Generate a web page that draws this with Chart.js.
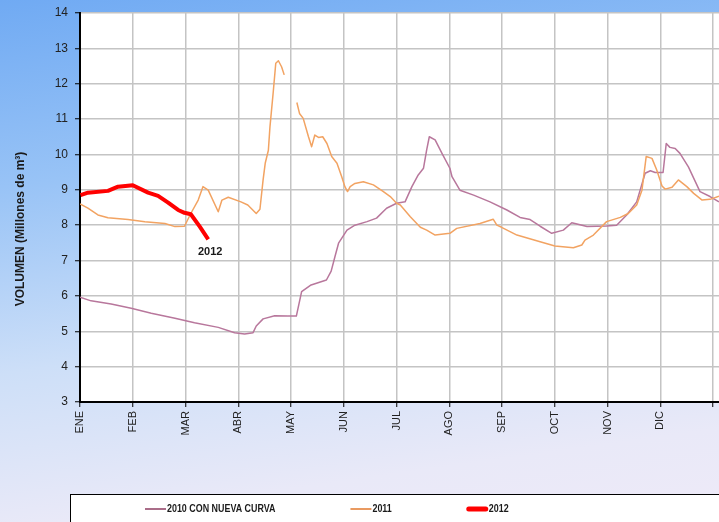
<!DOCTYPE html>
<html>
<head>
<meta charset="utf-8">
<script src="https://cdn.jsdelivr.net/npm/chart.js@4/dist/chart.umd.min.js"></script>
<style>
  html, body { margin: 0; padding: 0; }
  body {
    width: 719px; height: 522px; overflow: hidden;
    background: linear-gradient(172deg, #70aaf3 0%, #98c3f6 30%, #cddff8 60%, #e9e9f8 85%, #eeeaf8 100%);
  }
  #wrap { position: relative; width: 719px; height: 522px; }
</style>
</head>
<body>
<div id="wrap"><canvas id="chart" width="719" height="522"></canvas></div>
<script>
// meses en el eje X (posición 0 = 1 de enero, 1 = 1 de febrero, ...)
const monthLabels = ['ENE', 'FEB', 'MAR', 'ABR', 'MAY', 'JUN', 'JUL', 'AGO', 'SEP', 'OCT', 'NOV', 'DIC', ''];

// 2010 CON NUEVA CURVA
const pos2010 = [0, 0.21, 0.59, 0.97, 1.35, 1.80, 2.17, 2.62, 2.93, 3.12, 3.28, 3.34, 3.47, 3.69, 3.94, 4.10,
  4.20, 4.38, 4.67, 4.76, 4.83, 4.90, 5.06, 5.21, 5.44, 5.62, 5.81, 6.00, 6.16, 6.29, 6.41, 6.51, 6.57, 6.62,
  6.73, 6.86, 7.01, 7.05, 7.20, 7.46, 7.77, 8.09, 8.34, 8.53, 8.72, 8.94, 9.16, 9.32, 9.61, 9.98, 10.17, 10.36,
  10.55, 10.71, 10.81, 10.90, 11.05, 11.11, 11.18, 11.28, 11.37, 11.53, 11.75, 11.94, 12.11];
const vol2010 = [5.96, 5.86, 5.77, 5.65, 5.51, 5.37, 5.24, 5.11, 4.96, 4.92, 4.96, 5.15, 5.35, 5.44, 5.43, 5.43,
  6.12, 6.31, 6.45, 6.70, 7.10, 7.49, 7.86, 8.00, 8.10, 8.20, 8.48, 8.62, 8.66, 9.09, 9.42, 9.61, 10.13, 10.50,
  10.41, 10.03, 9.61, 9.37, 8.99, 8.85, 8.66, 8.43, 8.22, 8.16, 7.97, 7.77, 7.86, 8.07, 7.96, 7.98, 8.00, 8.29,
  8.66, 9.47, 9.54, 9.49, 9.49, 10.31, 10.20, 10.17, 10.03, 9.65, 8.95, 8.81, 8.66];

// 2011 (null = tramo sin datos)
const pos2011 = [0, 0.15, 0.34, 0.53, 0.91, 1.23, 1.61, 1.80, 1.98, 2.10, 2.24, 2.33, 2.43, 2.62, 2.69, 2.81,
  3.05, 3.18, 3.34, 3.41, 3.47, 3.51, 3.57, 3.60, 3.66, 3.71, 3.76, 3.82, 3.87, 3.99, 4.11, 4.16, 4.23, 4.33,
  4.39, 4.45, 4.52, 4.60, 4.68, 4.77, 4.87, 4.96, 5.02, 5.07, 5.12, 5.21, 5.37, 5.56, 5.75, 5.88, 6.00, 6.07,
  6.26, 6.45, 6.57, 6.73, 7.01, 7.14, 7.58, 7.83, 7.90, 7.99, 8.28, 8.72, 9.00, 9.35, 9.51, 9.57, 9.73, 9.98,
  10.24, 10.39, 10.55, 10.65, 10.73, 10.84, 10.93, 11.03, 11.09, 11.22, 11.34, 11.50, 11.63, 11.79, 11.94, 12.11];
const vol2011 = [8.60, 8.48, 8.29, 8.21, 8.16, 8.10, 8.05, 7.96, 7.97, 8.33, 8.71, 9.09, 8.99, 8.38, 8.71, 8.79,
  8.66, 8.57, 8.33, 8.45, 9.28, 9.75, 10.12, 10.78, 11.73, 12.58, 12.65, 12.48, 12.25, null, 11.47, 11.16, 11.02, 10.50,
  10.22, 10.55, 10.48, 10.50, 10.31, 9.94, 9.75, 9.37, 9.09, 8.95, 9.09, 9.18, 9.23, 9.14, 8.95, 8.81, 8.62, 8.57,
  8.24, 7.94, 7.86, 7.72, 7.77, 7.91, 8.05, 8.17, 8.00, 7.94, 7.72, 7.53, 7.41, 7.36, 7.44, 7.58, 7.72, 8.10,
  8.22, 8.33, 8.57, 8.99, 9.94, 9.89, 9.56, 9.11, 9.02, 9.07, 9.28, 9.09, 8.90, 8.71, 8.73, 8.82];

// 2012
const pos2012 = [0.01, 0.15, 0.53, 0.72, 1.00, 1.29, 1.48, 1.67, 1.86, 1.98, 2.10, 2.27, 2.43];
const vol2012 = [8.85, 8.92, 8.97, 9.09, 9.13, 8.92, 8.83, 8.64, 8.43, 8.35, 8.31, 7.96, 7.60];

const yTitle = 'VOLUMEN (Millones de m³)';

function toPoints(xs, ys) {
  return xs.map((x, i) => ({ x: x, y: ys[i] }));
}

const series = [
  { label: '2012', data: toPoints(pos2012, vol2012), color: '#ff0000', legendColor: '#ff0000', width: 4, order: 0 },
  { label: '2011', data: toPoints(pos2011, vol2011), color: '#f2a362', legendColor: '#e2782c', width: 1.5, order: 1 },
  { label: '2010 CON NUEVA CURVA', data: toPoints(pos2010, vol2010), color: '#b8779c', legendColor: '#8e3d62', width: 1.5, order: 2 },
];

// fondo blanco del área de trazado, título del eje Y, etiqueta "2012" y leyenda
const decorPlugin = {
  id: 'decor',
  beforeDraw(chart) {
    const { ctx, chartArea: a } = chart;
    ctx.save();
    ctx.fillStyle = '#ffffff';
    ctx.fillRect(a.left, a.top, a.right - a.left, a.bottom - a.top);
    ctx.restore();
  },
  afterDraw(chart) {
    const { ctx, scales } = chart;
    ctx.save();
    // título eje Y
    ctx.translate(21, 229);
    ctx.rotate(-Math.PI / 2);
    ctx.font = 'bold 12px "Liberation Sans", Arial, sans-serif';
    ctx.fillStyle = '#1a1a1a';
    ctx.textAlign = 'center';
    ctx.textBaseline = 'middle';
    ctx.fillText(yTitle, 0, 0);
    ctx.restore();

    // etiqueta al final de la curva 2012
    ctx.save();
    const lastX = pos2012[pos2012.length - 1];
    const lastY = vol2012[vol2012.length - 1];
    ctx.font = 'bold 11px "Liberation Sans", Arial, sans-serif';
    ctx.fillStyle = '#1a1a1a';
    ctx.textAlign = 'center';
    ctx.textBaseline = 'middle';
    ctx.fillText('2012', scales.x.getPixelForValue(lastX) + 2, scales.y.getPixelForValue(lastY) + 13);
    ctx.restore();

    // leyenda (texto estrecho: escala horizontal)
    ctx.save();
    ctx.fillStyle = '#ffffff';
    ctx.fillRect(70, 494, 700, 40);
    ctx.strokeStyle = '#000000';
    ctx.lineWidth = 1;
    ctx.strokeRect(70.5, 494.5, 700, 40);
    ctx.font = 'bold 11px "Liberation Sans", Arial, sans-serif';
    ctx.textBaseline = 'middle';
    ctx.textAlign = 'left';
    const squeeze = 0.81;
    const legendY = 509;
    let x = 145;
    [series[2], series[1], series[0]].forEach(s => {
      ctx.strokeStyle = s.legendColor;
      ctx.lineWidth = s.width === 4 ? 5 : 1.5;
      ctx.lineCap = s.width === 4 ? 'round' : 'butt';
      ctx.beginPath();
      ctx.moveTo(x + (s.width === 4 ? 2 : 0), legendY);
      ctx.lineTo(x + (s.width === 4 ? 19 : 21), legendY);
      ctx.stroke();
      ctx.fillStyle = '#1a1a1a';
      ctx.save();
      ctx.translate(x + 22, legendY);
      ctx.scale(squeeze, 1);
      ctx.fillText(s.label, 0, 0);
      ctx.restore();
      x += 22 + ctx.measureText(s.label).width * squeeze + 75;
    });
    ctx.restore();
  }
};

new Chart(document.getElementById('chart'), {
  type: 'line',
  data: {
    datasets: series.map(s => ({
      label: s.label,
      data: s.data,
      borderColor: s.color,
      backgroundColor: s.color,
      borderWidth: s.width,
      pointRadius: 0,
      tension: 0,
      spanGaps: false,
      order: s.order,
      borderJoinStyle: 'round',
    }))
  },
  options: {
    responsive: false,
    animation: false,
    devicePixelRatio: 1,
    layout: { padding: { left: 0, top: 13, right: 0, bottom: 0 } },
    plugins: { legend: { display: false }, tooltip: { enabled: false } },
    scales: {
      x: {
        type: 'linear',
        min: 0,
        max: 12.11,
        afterFit(scale) { scale.height = 120; scale.paddingRight = 0; scale.paddingLeft = 0; },
        grid: { color: '#c4c4c4', lineWidth: 1.5, tickColor: '#000000', tickLength: 5, tickWidth: 1 },
        border: { color: '#000000', width: 2 },
        ticks: {
          stepSize: 1,
          includeBounds: false,
          autoSkip: false,
          minRotation: 90,
          maxRotation: 90,
          padding: 4,
          color: '#222222',
          font: { family: '"Liberation Sans", Arial, sans-serif', size: 11 },
          callback: v => monthLabels[Math.round(v)] !== undefined ? monthLabels[Math.round(v)] : ''
        }
      },
      y: {
        min: 3,
        max: 14,
        afterFit(scale) { scale.width = 80; scale.paddingTop = 0; scale.paddingBottom = 0; },
        grid: { color: '#c4c4c4', lineWidth: 1.5, tickColor: '#000000', tickLength: 5, tickWidth: 1 },
        border: { color: '#000000', width: 2 },
        ticks: {
          stepSize: 1,
          padding: 7,
          color: '#222222',
          font: { family: '"Liberation Sans", Arial, sans-serif', size: 12 }
        }
      }
    }
  },
  plugins: [decorPlugin]
});
</script>
</body>
</html>
